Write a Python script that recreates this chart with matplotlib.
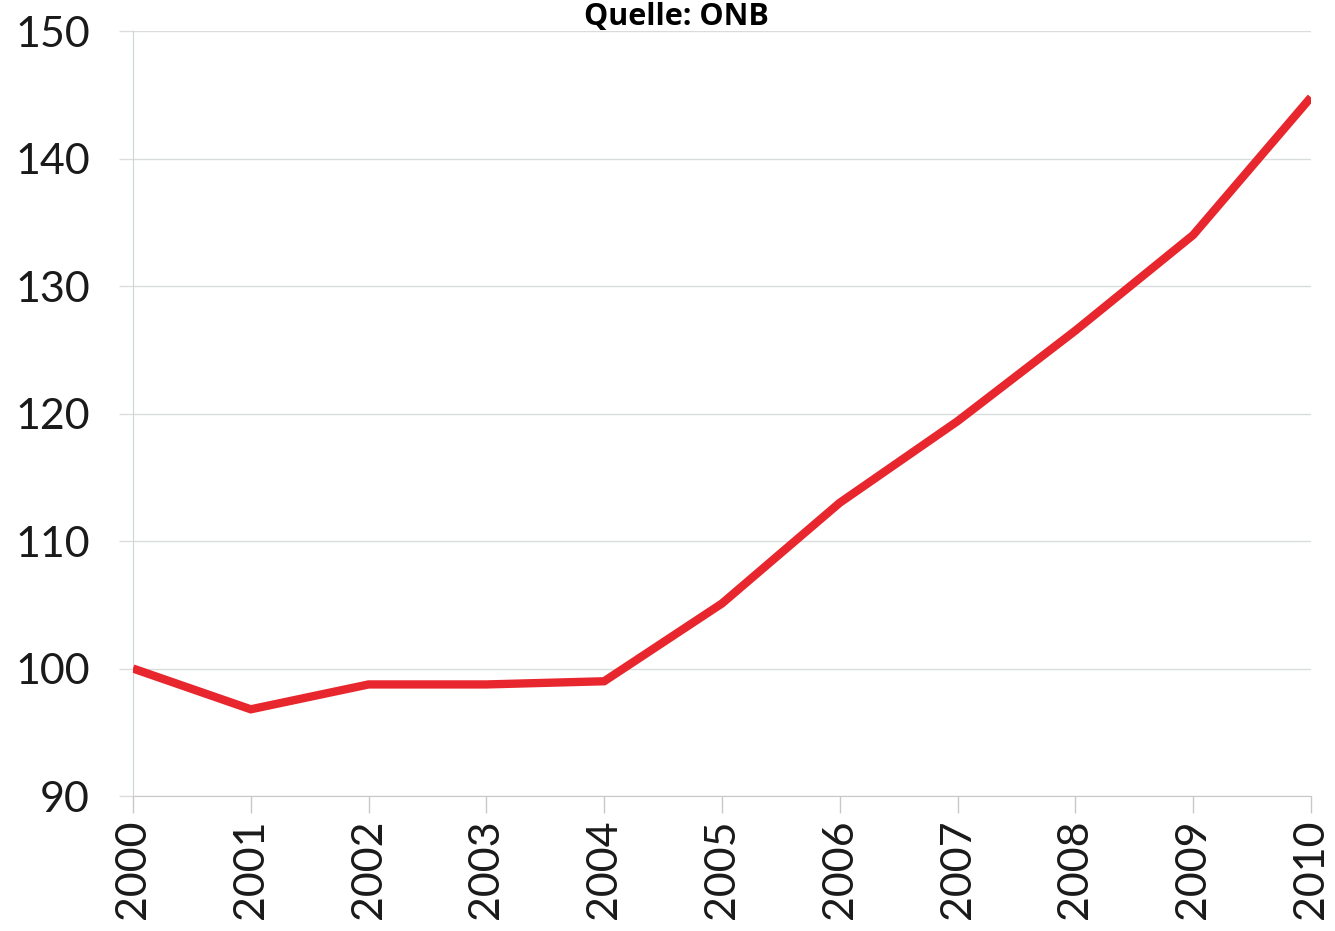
import matplotlib
matplotlib.use("Agg")
import matplotlib.pyplot as plt

years = [2000, 2001, 2002, 2003, 2004, 2005, 2006, 2007, 2008, 2009, 2010]
index = [100.0, 96.8, 98.75, 98.75, 99.0, 105.1, 113.0, 119.4, 126.5, 134.0, 144.8]
yticks = [90, 100, 110, 120, 130, 140, 150]

plt.rcParams['font.family'] = ['Lato', 'DejaVu Sans']

fig = plt.figure(figsize=(13.35, 9.31), dpi=100)
ax = fig.add_axes([0.0996, 0.145, 0.8824, 0.8217])

ax.plot(years, index, color='#e8262d', lw=6, solid_capstyle='butt', solid_joinstyle='miter', zorder=3)

ax.set_xlim(2000, 2010)
ax.set_ylim(90, 150)
ax.set_xticks(years)
ax.set_xticklabels([str(y) for y in years], rotation=90, fontsize=31, color='#1a1a1a')
ax.set_yticks(yticks)
ax.set_yticklabels([str(v) for v in yticks], fontsize=31, color='#1a1a1a')

ax.grid(axis='y', color='#d8dcdc', lw=1)
ax.set_axisbelow(True)
for s in ['top', 'right']:
    ax.spines[s].set_visible(False)
ax.spines['left'].set_color('#c9d6dc')
ax.spines['bottom'].set_color('#c8c8c8')
ax.tick_params(axis='x', length=12, width=1, color='#c8c8c8', pad=5)
ax.tick_params(axis='y', length=10, width=1, color='#dcdcdc', pad=21)

# source line sits right against the top edge
fig.text(0.507, 1 - 25 / 931, 'Quelle: ONB', ha='center', va='baseline', fontsize=22,
         fontweight='bold', family=['Open Sans', 'DejaVu Sans'])

fig.savefig('out.png', dpi=100)
